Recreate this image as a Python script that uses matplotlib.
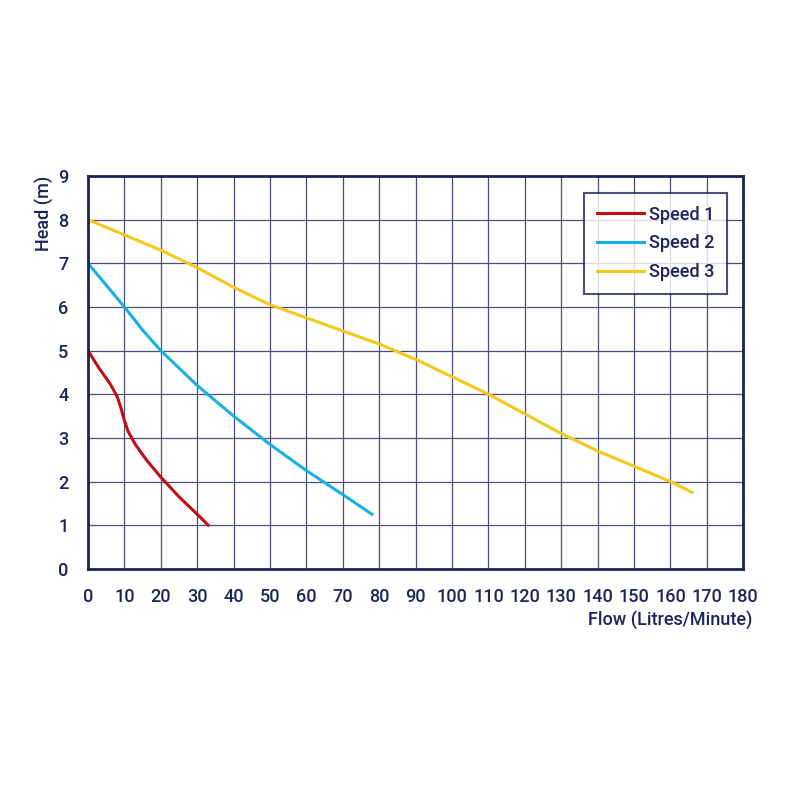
import matplotlib
matplotlib.use("Agg")
import matplotlib.pyplot as plt

NAVY = "#1b2557"

# pump curves
speed1_flow = [0, 3, 6, 8, 9, 10, 11, 13, 16, 20, 25, 30, 33]
speed1_head = [5.0, 4.6, 4.25, 3.95, 3.7, 3.4, 3.15, 2.85, 2.5, 2.1, 1.65, 1.25, 1.0]

speed2_flow = [0, 5, 10, 15, 20, 25, 30, 35, 40, 50, 60, 70, 78]
speed2_head = [7.0, 6.5, 6.0, 5.47, 5.0, 4.6, 4.2, 3.85, 3.5, 2.85, 2.25, 1.7, 1.25]

speed3_flow = [0, 10, 20, 30, 40, 50, 60, 70, 80, 90, 100, 110, 120, 130, 140, 150, 160, 166]
speed3_head = [8.0, 7.65, 7.3, 6.9, 6.45, 6.05, 5.75, 5.45, 5.15, 4.8, 4.4, 4.0, 3.55, 3.1,
               2.7, 2.35, 2.0, 1.75]

x_ticks = list(range(0, 181, 10))
y_ticks = list(range(0, 10))

plt.rcParams["font.family"] = ["Roboto", "DejaVu Sans"]

fig = plt.figure(figsize=(8, 8), dpi=100)
ax = fig.add_axes([0.11, 0.289, 0.819, 0.491])

ax.plot(speed1_flow, speed1_head, color="#c00d14", lw=2.2, label="Speed 1")
ax.plot(speed2_flow, speed2_head, color="#18b0e2", lw=2.2, label="Speed 2")
ax.plot(speed3_flow, speed3_head, color="#f4c81c", lw=2.2, label="Speed 3")

ax.set_xlim(0, 180)
ax.set_ylim(0, 9)
ax.set_xticks(x_ticks)
ax.set_yticks(y_ticks)
ax.tick_params(length=0, colors=NAVY, labelsize=13)
ax.tick_params(axis="x", pad=14)
ax.tick_params(axis="y", pad=14)
for lab in ax.get_xticklabels() + ax.get_yticklabels():
    lab.set_fontweight("medium")
ax.grid(True, color="#4a5078", lw=0.9)
ax.set_axisbelow(True)
for sp in ax.spines.values():
    sp.set_color(NAVY)
    sp.set_linewidth(2)

fig.text(0.94, 0.225, "Flow (Litres/Minute)", ha="right", va="center",
         color=NAVY, fontsize=13, fontweight="medium")
fig.text(0.055, 0.78, "Head (m)", ha="center", va="top", rotation=90,
         color=NAVY, fontsize=13, fontweight="medium")

leg = ax.legend(loc="upper right", bbox_to_anchor=(0.976, 0.957), borderaxespad=0,
                fancybox=False, edgecolor=NAVY, fontsize=13, handlelength=2.6,
                labelspacing=0.6, borderpad=0.7, handletextpad=0.3)
leg.get_frame().set_linewidth(1.5)
for t in leg.get_texts():
    t.set_color(NAVY)
    t.set_fontweight("medium")

fig.savefig("out.png", dpi=100)
